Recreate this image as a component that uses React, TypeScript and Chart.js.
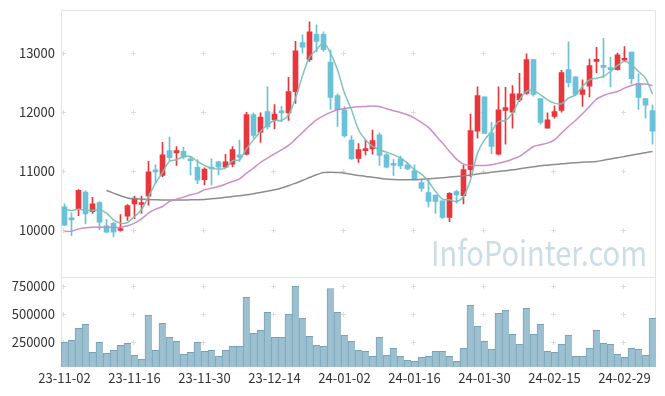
import React, { useEffect, useRef } from "react";
import { Chart, registerables } from "chart.js";

Chart.register(...registerables);

const dates = [
  "23-11-02","23-11-03","23-11-06","23-11-07","23-11-08","23-11-09","23-11-10","23-11-13","23-11-14","23-11-15",
  "23-11-16","23-11-17","23-11-20","23-11-21","23-11-22","23-11-23","23-11-24","23-11-27","23-11-28","23-11-29",
  "23-11-30","23-12-01","23-12-04","23-12-05","23-12-06","23-12-07","23-12-08","23-12-11","23-12-12","23-12-13",
  "23-12-14","23-12-15","23-12-18","23-12-19","23-12-20","23-12-21","23-12-22","23-12-26","23-12-27","23-12-28",
  "24-01-02","24-01-03","24-01-04","24-01-05","24-01-08","24-01-09","24-01-10","24-01-11","24-01-12","24-01-15",
  "24-01-16","24-01-17","24-01-18","24-01-19","24-01-22","24-01-23","24-01-24","24-01-25","24-01-26","24-01-29",
  "24-01-30","24-01-31","24-02-01","24-02-02","24-02-05","24-02-06","24-02-07","24-02-08","24-02-13","24-02-14",
  "24-02-15","24-02-16","24-02-19","24-02-20","24-02-21","24-02-22","24-02-23","24-02-26","24-02-27","24-02-28",
  "24-02-29","24-03-04","24-03-05","24-03-06","24-03-07",
];

const openPrices = [
  10400,10190,10370,10650,10320,10470,10080,10120,10000,10240,
  10450,10440,10580,11000,10930,11350,11310,11340,11190,11070,
  10860,11070,11160,11070,11120,11280,11290,11960,11660,12010,
  11870,12000,11990,12350,13180,12890,13320,13320,12850,12280,
  12040,11530,11220,11350,11380,11620,11280,11110,11210,11110,
  11010,10810,10640,10600,10500,10220,10660,10590,11030,11680,
  12260,11650,11290,12030,12000,12210,12320,12890,12230,11730,
  11930,12030,12720,12600,12300,12440,12860,12770,12750,12720,
  12880,13020,12490,12230,12030,
];

const highPrices = [
  10450,10300,10690,10670,10560,10490,10190,10140,10270,10440,
  10580,10580,11170,11110,11490,11580,11420,11410,11250,11200,
  11060,11210,11170,11290,11420,11530,12000,11990,11990,12430,
  12130,12100,12590,13200,13310,13530,13480,13360,13050,12310,
  12090,11600,11470,11530,11700,11650,11300,11200,11260,11140,
  11110,10860,10860,10600,10500,10640,10680,11100,11970,12430,
  12260,11830,12430,12420,12450,12660,12990,12890,12230,11990,
  12110,12710,13190,12600,12550,12900,13100,13250,12930,13000,
  13110,13020,12650,12230,12120,
];

const lowPrices = [
  10080,9910,10250,10110,10290,10010,9960,9890,9990,10170,
  10200,10290,10430,10800,10910,11180,11100,11210,10940,10790,
  10770,10770,10940,11070,11080,11170,11280,11560,11490,11720,
  11720,11840,11860,12150,13000,12860,13020,13030,12050,11760,
  11580,11200,11150,11280,11290,11100,11060,10930,11040,11030,
  10860,10660,10400,10290,10200,10150,10460,10450,10910,11560,
  11640,11300,11280,11460,11730,12180,12300,12270,11800,11730,
  11900,12000,12430,12280,12100,12260,12670,12590,12430,12710,
  12870,12480,12050,11900,11460,
];

const closePrices = [
  10090,10180,10680,10280,10450,10140,9970,9970,10030,10420,
  10550,10470,10990,10990,11280,11230,11350,11240,11180,10850,
  11040,11040,11070,11160,11370,11240,11960,11610,11920,11750,
  11970,11990,12350,13040,13100,13360,13200,13060,12250,12040,
  11600,11210,11370,11380,11520,11270,11070,11100,11090,11040,
  10860,10710,10490,10490,10220,10630,10600,11030,11690,12280,
  11640,11420,12040,12080,12310,12310,12890,12300,11830,11870,
  12010,12670,12500,12300,12380,12790,12890,12760,12720,12970,
  12900,12570,12250,12120,11680,
];

const volumes = [
  250000,267000,374000,409000,161000,250000,152000,179000,223000,241000,
  134000,99000,489000,179000,418000,294000,259000,143000,161000,250000,
  170000,179000,126000,179000,214000,214000,649000,329000,356000,516000,
  294000,294000,498000,746000,462000,303000,223000,214000,728000,516000,
  312000,259000,179000,170000,126000,294000,134000,197000,126000,90000,
  81000,117000,126000,170000,170000,126000,81000,197000,578000,392000,
  259000,188000,507000,533000,320000,232000,551000,320000,409000,170000,
  161000,232000,312000,126000,126000,197000,356000,241000,232000,143000,
  117000,197000,188000,134000,462000,
];

const ma5 = [
  10361,10338,10361,10338,10338,10350,10293,10180,10124,10135,
  10237,10350,10575,10801,10981,11167,11196,11252,11252,11167,
  11100,11055,11038,11055,11179,11196,11382,11534,11675,11788,
  11861,11861,11957,12239,12617,12933,13057,13170,13000,12718,
  12324,12042,11703,11534,11421,11365,11325,11280,11224,11139,
  11026,10953,10829,10660,10530,10519,10491,10575,10857,11308,
  11534,11675,11844,11861,11985,12211,12352,12369,12295,12211,
  12154,12143,12239,12295,12436,12549,12577,12606,12690,12792,
  12859,12803,12690,12577,12307,
];

const ma20 = [
  9983,9989,10023,10045,10056,10056,10056,10051,10056,10079,
  10124,10197,10293,10361,10406,10491,10530,10564,10603,10632,
  10688,10716,10744,10784,10829,10874,10970,11055,11150,11224,
  11297,11365,11438,11545,11658,11771,11872,11940,11997,12042,
  12064,12081,12092,12098,12104,12098,12059,12025,11997,11957,
  11901,11827,11745,11610,11478,11337,11207,11122,11100,11100,
  11100,11111,11139,11167,11207,11252,11337,11421,11449,11478,
  11534,11647,11760,11861,11974,12098,12222,12284,12324,12352,
  12408,12453,12476,12476,12448,
];

const ma60 = [
  null,null,null,null,null,null,10677,10632,10587,10550,
  10536,10530,10522,10518,10515,10515,10515,10517,10518,10520,
  10524,10535,10547,10560,10575,10588,10603,10622,10643,10665,
  10688,10720,10756,10800,10846,10895,10942,10980,10987,10980,
  10970,10950,10930,10915,10902,10885,10869,10862,10857,10857,
  10857,10865,10874,10885,10893,10903,10914,10925,10940,10955,
  10970,10985,10998,11012,11026,11043,11060,11077,11094,11105,
  11116,11128,11139,11146,11153,11160,11167,11188,11210,11230,
  11252,11273,11295,11316,11337,
];

const priceTicks = [10000, 11000, 12000, 13000];
const volumeTicks = [250000, 500000, 750000];
const labelEvery = 10;
const watermark = "InfoPointer.com";

const UP = "#e8373c";
const DOWN = "#6bc2d8";
const FONT = "'Noto Sans CJK KR', 'Noto Sans', sans-serif";

const framePlugin = {
  id: "framePlugin",
  beforeDatasetsDraw(chart: any) {
    const { ctx, chartArea, scales } = chart;
    const xs = scales.x, ys = scales.y, yv = scales.yv;
    ctx.save();
    // watermark
    ctx.font = `34px ${FONT}`;
    const w = ctx.measureText(watermark).width;
    ctx.fillStyle = "#cbdde7";
    ctx.textBaseline = "alphabetic";
    ctx.translate(chartArea.right - 9 - 216, ys.bottom - 11.5);
    ctx.scale(216 / w, 1);
    ctx.fillText(watermark, 0, 0);
    ctx.restore();

    ctx.save();
    ctx.strokeStyle = "#e4e4e4";
    ctx.lineWidth = 1;
    const L = Math.round(chartArea.left) + 0.5;
    const R = Math.round(chartArea.right) - 0.5;
    const T = Math.round(chartArea.top) + 0.5;
    const B = chartArea.bottom;
    const S = Math.floor(ys.bottom) + 0.5;
    ctx.beginPath();
    ctx.moveTo(L, T); ctx.lineTo(L, B);
    ctx.moveTo(R, T); ctx.lineTo(R, B);
    ctx.moveTo(L, T); ctx.lineTo(R, T);
    ctx.moveTo(L, S); ctx.lineTo(R, S);
    ctx.stroke();

    // grid crosses
    ctx.strokeStyle = "#dcdcdc";
    ctx.beginPath();
    const rows: number[] = [];
    priceTicks.forEach((v) => rows.push(ys.getPixelForValue(v)));
    volumeTicks.forEach((v) => rows.push(yv.getPixelForValue(v)));
    for (let i = 0; i < dates.length; i += labelEvery) {
      const px = Math.floor(xs.getPixelForValue(i)) - 0.5;
      rows.forEach((py0) => {
        const py = Math.round(py0) + 0.5;
        ctx.moveTo(px - 2.5, py); ctx.lineTo(px + 2.5, py);
        ctx.moveTo(px, py - 2.5); ctx.lineTo(px, py + 2.5);
      });
    }
    ctx.stroke();
    ctx.restore();
  },
};

export default function App() {
  const ref = useRef<HTMLCanvasElement>(null);
  useEffect(() => {
    const canvas = ref.current!;
    const colors = closePrices.map((c, i) => (c >= openPrices[i] ? UP : DOWN));
    const tickFont = { family: FONT, size: 13 };
    const chart = new Chart(canvas, {
      type: "bar",
      data: {
        labels: dates,
        datasets: [
          {
            type: "line", label: "MA5", data: ma5, yAxisID: "y",
            borderColor: "rgba(120,193,182,0.95)", borderWidth: 1.5, pointRadius: 0, tension: 0.3, order: 0,
          } as any,
          {
            type: "line", label: "MA20", data: ma20, yAxisID: "y",
            borderColor: "rgba(200,135,200,0.95)", borderWidth: 1.5, pointRadius: 0, tension: 0.3, order: 1,
          } as any,
          {
            type: "line", label: "MA60", data: ma60, yAxisID: "y",
            borderColor: "rgba(135,135,135,0.95)", borderWidth: 1.5, pointRadius: 0, tension: 0.3, order: 2,
          } as any,
          {
            type: "bar", label: "body", data: openPrices.map((o, i) => [o, closePrices[i]]), yAxisID: "y",
            backgroundColor: colors, barThickness: 5, grouped: false, minBarLength: 2, order: 3,
          } as any,
          {
            type: "bar", label: "wick", data: lowPrices.map((l, i) => [l, highPrices[i]]), yAxisID: "y",
            backgroundColor: colors, barThickness: 1, grouped: false, order: 4,
          } as any,
          {
            type: "bar", label: "volume", data: volumes, yAxisID: "yv",
            backgroundColor: "#9cc0d0", borderColor: "#76a3b8",
            borderWidth: { top: 1, left: 1, right: 0, bottom: 0 }, borderSkipped: false,
            barPercentage: 1, categoryPercentage: 1, grouped: false, order: 5,
          } as any,
        ],
      },
      options: {
        responsive: false,
        animation: false,
        devicePixelRatio: 1,
        layout: { padding: { left: 0, right: 9, top: 10, bottom: 0 } },
        plugins: { legend: { display: false }, tooltip: { enabled: false } },
        scales: {
          x: {
            type: "category",
            offset: true,
            grid: { display: false, drawTicks: false },
            border: { display: false },
            ticks: {
              autoSkip: false, maxRotation: 0, minRotation: 0, padding: 3,
              color: "#333", font: tickFont,
              callback: (v: any, i: number) => (i % labelEvery === 0 ? dates[i] : ""),
            },
            afterFit: (s: any) => { s.height = 29; s.paddingLeft = 0; s.paddingRight = 0; },
          },
          y: {
            type: "linear", position: "left", stack: "main", stackWeight: 3, weight: 1,
            min: 9200, max: 13730,
            grid: { display: false, drawTicks: false },
            border: { display: false },
            ticks: { padding: 6, color: "#333", font: tickFont, callback: (v: any) => String(v) },
            afterBuildTicks: (s: any) => { s.ticks = priceTicks.map((v) => ({ value: v })); },
            afterFit: (s: any) => { s.width = 61; s.paddingTop = 0; s.paddingBottom = 0; },
          },
          yv: {
            type: "linear", position: "left", stack: "main", stackWeight: 1, weight: 0,
            min: 31000, max: 823000,
            grid: { display: false, drawTicks: false },
            border: { display: false },
            ticks: { padding: 6, color: "#333", font: tickFont, callback: (v: any) => String(v) },
            afterBuildTicks: (s: any) => { s.ticks = volumeTicks.map((v) => ({ value: v })); },
            afterFit: (s: any) => { s.width = 61; s.paddingTop = 0; s.paddingBottom = 0; },
          },
        } as any,
      },
      plugins: [framePlugin],
    } as any);
    return () => chart.destroy();
  }, []);
  return (
    <canvas
      ref={ref}
      width={665}
      height={396}
      style={{ position: "absolute", left: 0, top: 0, display: "block", width: 665, height: 396 }}
    />
  );
}
